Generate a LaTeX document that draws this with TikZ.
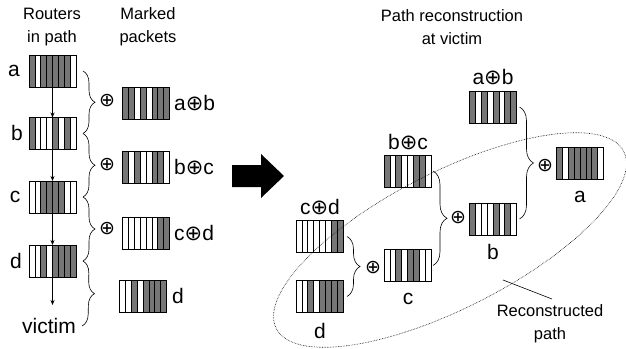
\documentclass[tikz,border=0pt]{standalone}
\usepackage{fontspec}
\setmainfont{Liberation Sans}
\newfontfamily\symf{DejaVu Sans}
\usetikzlibrary{calc,decorations.pathreplacing,arrows.meta}
\definecolor{pktgray}{RGB}{118,118,118}
\newcommand\op{{\symf ⊕}}
\newcommand\packet[3]{%
  \node[pkt] (#1) at (#2) {};
  \begin{scope}[shift={(#1.north west)}]
    \foreach \s [count=\i from 0] in {#3} {
      \ifnum\s=1 \fill[pktgray] (\i*5.875,0) rectangle ++(5.875,-32);\fi
      \draw[line width=0.6pt] (\i*5.875,0) -- ++(0,-32);
    }
  \end{scope}
  \draw[line width=0.9pt] (#1.north west) rectangle (#1.south east);
}
\begin{document}
\begin{tikzpicture}[x=1pt,y=1pt,
  pkt/.style={minimum width=47pt, minimum height=32pt, inner sep=0pt, outer sep=0pt},
  lbl/.style={font=\fontsize{21}{24}\selectfont, inner sep=0pt},
  head/.style={font=\fontsize{16.5}{23}\selectfont, align=center, inner sep=0pt},
  oplus/.style={font=\symf\fontsize{19}{19}\selectfont, inner sep=0pt},
  brc/.style={decorate, decoration={brace, amplitude=#1}, line width=0.6pt},
  flow/.style={-{Stealth[length=5pt,width=4pt]}, line width=0.6pt}]
\useasboundingbox (0,0) rectangle (626,-348);

% headings
\node[head] (h1) at (52,-27) {Routers\\in path};
\node[head] (h2) at (148,-27) {Marked\\packets};
\node[head] (h3) at (452,-27) {Path reconstruction\\at victim};

% left routers
\packet{a}{52.5,-71}{1,0,1,1,1,1,1,0}
\packet{b}{52.5,-133.5}{1,0,0,0,1,0,1,0}
\packet{c}{52.5,-197}{0,0,1,1,1,1,0,0}
\packet{d}{52.5,-261}{0,0,1,0,1,1,1,1}
\node[lbl] (la) at (14,-71) {a};
\node[lbl] (lb) at (17,-133) {b};
\node[lbl] (lc) at (15,-197) {c};
\node[lbl] (ld) at (16,-261) {d};
\node[lbl] (victim) at (49,-326) {victim};
\coordinate (vend) at (52.5,-305);
\draw[flow] (a.south) -- (b.north);
\draw[flow] (b.south) -- (c.north);
\draw[flow] (c.south) -- (d.north);
\draw[flow] (d.south) -- (vend);

% left braces
\draw[brc=12pt] ($(a.east)+(7,0)$) -- ($(b.east)+(7,0)$);
\draw[brc=12pt] ($(b.east)+(7,0)$) -- ($(c.east)+(7,0)$);
\draw[brc=12pt] ($(c.east)+(7,0)$) -- ($(d.east)+(7,0)$);
\draw[brc=12pt] ($(d.east)+(7,0)$) -- ($(victim.east)+(6,0)$);
\node[oplus] (o1) at (107,-101) {⊕};
\node[oplus] (o2) at (107,-165) {⊕};
\node[oplus] (o3) at (107,-229) {⊕};

% marked packets
\packet{mab}{146,-103}{1,1,0,1,0,1,1,1}
\packet{mbc}{146,-167}{1,0,1,0,0,1,1,0}
\packet{mcd}{146,-233}{0,0,0,0,0,0,1,1}
\packet{md}{143,-296}{0,0,1,0,1,1,1,1}
\node[lbl, anchor=west] (lab) at (174,-103) {a\op b};
\node[lbl, anchor=west] (lbc) at (174,-167) {b\op c};
\node[lbl, anchor=west] (lcd) at (174,-233) {c\op d};
\node[lbl, anchor=west] (lmd) at (172,-296) {d};

% big arrow
\fill (232,-165) -- (261,-165) -- (261,-154) -- (284,-176) -- (261,-198) -- (261,-187) -- (232,-187) -- cycle;

% right side packets
\packet{abr}{493,-107}{1,0,1,0,1,0,1,1}
\packet{ar}{580,-163.5}{1,0,1,1,1,1,1,0}
\packet{br}{493,-219}{1,0,0,0,1,0,1,0}
\packet{bcr}{407.5,-171}{1,0,1,0,0,1,1,0}
\packet{cr}{407.5,-265.5}{0,0,1,0,1,1,0,0}
\packet{cdr}{319.5,-236.5}{0,0,0,0,0,0,1,1}
\packet{dr}{319.5,-296.5}{0,0,1,0,1,1,1,1}
\node[lbl] (labr) at (493,-77) {a\op b};
\node[lbl] (lar) at (580,-197) {a};
\node[lbl] (lbr) at (493,-252) {b};
\node[lbl] (lbcr) at (408,-142) {b\op c};
\node[lbl] (lcr) at (408,-299) {c};
\node[lbl] (lcdr) at (320,-207) {c\op d};
\node[lbl] (ldr) at (320,-331) {d};

% right braces
\draw[brc=14pt] ($(abr.east)+(3,0)$) -- ($(br.east)+(3,0)$);
\draw[brc=14pt] ($(bcr.east)+(2,0)$) -- ($(cr.east)+(2,0)$);
\draw[brc=13pt] ($(cdr.east)+(4,0)$) -- ($(dr.east)+(4,0)$);
\node[oplus] (o4) at (545,-166) {⊕};
\node[oplus] (o5) at (458,-218) {⊕};
\node[oplus] (o6) at (373,-268) {⊕};

% dotted ellipse and label
\draw[densely dotted, line width=0.6pt, rotate around={27:(450,-240)}] (450,-240) ellipse [x radius=195pt, y radius=68pt];
\coordinate (ellpt) at (503,-280);
\coordinate (leadend) at (552,-299);
\draw[line width=0.6pt] (ellpt) -- (leadend);
\node[head] (rec) at (550,-324) {Reconstructed\\path};
\end{tikzpicture}
\end{document}
